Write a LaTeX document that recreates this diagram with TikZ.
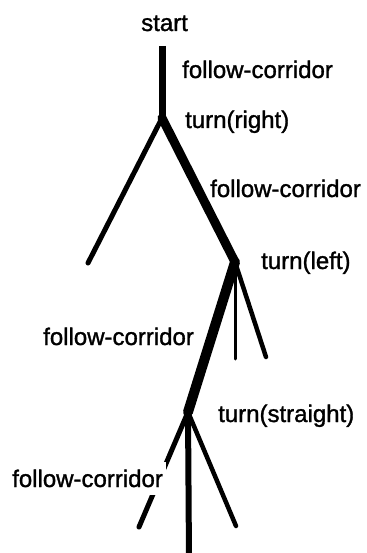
\documentclass[tikz,border=0pt]{standalone}
\usepackage{fontspec}
\setmainfont{Liberation Sans}
\newfontfamily\lblfont{Liberation Sans}[FakeBold=1.3]
\begin{document}
\begin{tikzpicture}[x=1pt,y=-1pt,
  lbl/.style={anchor=base west,inner sep=0pt,font=\lblfont\fontsize{24}{28}\selectfont},
  edge/.style={line cap=round,line join=round,draw=black}]
\useasboundingbox (0,0) rectangle (366,553);
\clip (0,0) rectangle (366,553);
% tree points
\coordinate (top) at (162,46);
\coordinate (n1) at (162,118);
\coordinate (n2) at (235,262);
\coordinate (n3) at (188,412);
\coordinate (leafA) at (88,263);
\coordinate (leafB) at (235,359);
\coordinate (leafC) at (266,357);
\coordinate (leafD) at (139,527);
\coordinate (leafE) at (189,560);
\coordinate (leafF) at (236,526);
% branches
\draw[edge,line cap=butt,line width=7pt] (top) -- (n1);
\draw[edge,line width=5pt] (n1) -- (leafA);
\draw[edge,line width=9pt] (n1) -- (n2);
\draw[edge,line width=10pt] (n2) -- (n3);
\draw[edge,line width=3pt] (n2) -- (leafB);
\draw[edge,line width=4.5pt] (n2) -- (leafC);
\draw[edge,line width=5pt] (n3) -- (leafD);
\draw[edge,line width=6pt] (n3) -- (leafE);
\draw[edge,line width=4.5pt] (n3) -- (leafF);
% labels
\node[lbl] (start) at (141,31) {start};
\node[lbl] (fc1) at (182,78) {follow-corridor};
\node[lbl] (tr) at (185,128) {turn(right)};
\node[lbl] (fc2) at (210,197) {follow-corridor};
\node[lbl] (tl) at (261,269) {turn(left)};
\node[lbl] (fc3) at (43,345) {follow-corridor};
\node[lbl] (ts) at (218,422) {turn(straight)};
\node[lbl,fill=white,inner xsep=3pt,inner ysep=8pt] (fc4) at (9,487) {follow-corridor};
\end{tikzpicture}
\end{document}
